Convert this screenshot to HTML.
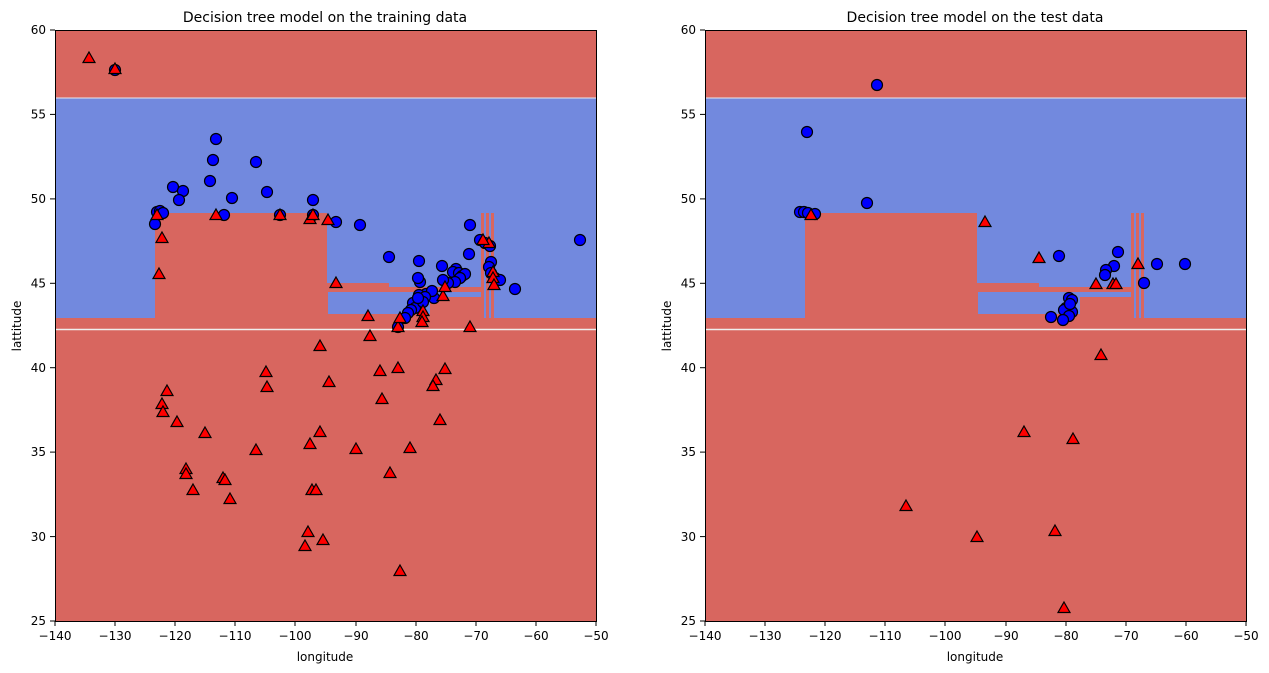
<!DOCTYPE html>
<html><head><meta charset="utf-8"><style>body{margin:0;background:#fff}svg{display:block;font-family:"DejaVu Sans","Liberation Sans",sans-serif}</style></head><body>
<svg width="1269" height="673" viewBox="0 0 1269 673" xmlns="http://www.w3.org/2000/svg">
<defs>
<g id="bg">
<rect x="55" y="30" width="541" height="591" fill="#d8665f"/>
<rect x="55" y="98" width="541" height="220" fill="#7289de"/>
<rect x="155" y="213" width="172" height="117" fill="#d8665f"/>
<rect x="327" y="283" width="62" height="47" fill="#d8665f"/>
<rect x="389" y="287" width="93" height="43" fill="#d8665f"/>
<rect x="328" y="292" width="154" height="5" fill="#7289de"/>
<rect x="328" y="292" width="102" height="22" fill="#7289de"/>
<rect x="481" y="213" width="3" height="117" fill="#d8665f"/>
<rect x="486" y="213" width="3" height="117" fill="#d8665f"/>
<rect x="491" y="213" width="3" height="117" fill="#d8665f"/>
<rect x="55" y="318" width="541" height="12" fill="#d8665f"/>
<line x1="55" y1="98" x2="596" y2="98" stroke="#e8e8f0" stroke-width="1"/>
<line x1="55" y1="329.5" x2="596" y2="329.5" stroke="#eeeeee" stroke-width="1.5"/>
</g>
<circle id="c" r="5.5" fill="#0000ff" stroke="#000" stroke-width="1.2"/>
<path id="t" d="M0,-6 L6,4.5 L-6,4.5Z" fill="#ff0000" stroke="#000" stroke-width="1.2"/>
<g id="axes">
<rect x="55.5" y="30.5" width="541" height="591" fill="none" stroke="#000" stroke-width="1"/>
<g stroke="#000">
<line x1="55" y1="621" x2="55" y2="626"/><line x1="115" y1="621" x2="115" y2="626"/><line x1="175" y1="621" x2="175" y2="626"/><line x1="235" y1="621" x2="235" y2="626"/><line x1="295" y1="621" x2="295" y2="626"/><line x1="356" y1="621" x2="356" y2="626"/><line x1="416" y1="621" x2="416" y2="626"/><line x1="476" y1="621" x2="476" y2="626"/><line x1="536" y1="621" x2="536" y2="626"/><line x1="596" y1="621" x2="596" y2="626"/>
<line x1="50" y1="30" x2="55" y2="30"/><line x1="50" y1="114.4" x2="55" y2="114.4"/><line x1="50" y1="198.9" x2="55" y2="198.9"/><line x1="50" y1="283.3" x2="55" y2="283.3"/><line x1="50" y1="367.7" x2="55" y2="367.7"/><line x1="50" y1="452.1" x2="55" y2="452.1"/><line x1="50" y1="536.6" x2="55" y2="536.6"/><line x1="50" y1="621" x2="55" y2="621"/>
</g>
<g font-size="12" text-anchor="middle" fill="#000">
<text x="55" y="640">−140</text><text x="115" y="640">−130</text><text x="175" y="640">−120</text><text x="235" y="640">−110</text><text x="295" y="640">−100</text><text x="356" y="640">−90</text><text x="416" y="640">−80</text><text x="476" y="640">−70</text><text x="536" y="640">−60</text><text x="596" y="640">−50</text>
<text x="325" y="661">longitude</text>
</g>
<g font-size="12" text-anchor="end">
<text x="46" y="34">60</text><text x="46" y="118.5">55</text><text x="46" y="203">50</text><text x="46" y="287.5">45</text><text x="46" y="372">40</text><text x="46" y="456">35</text><text x="46" y="541">30</text><text x="46" y="625">25</text>
</g>
<text transform="translate(21,326) rotate(-90)" font-size="12" text-anchor="middle">lattitude</text>
</g>
</defs>
<use href="#bg"/>
<use href="#bg" transform="translate(650,0)"/>
<g>
<use href="#c" x="115" y="70"/><use href="#c" x="216" y="139"/><use href="#c" x="213" y="160"/><use href="#c" x="256" y="162"/><use href="#c" x="210" y="181"/><use href="#c" x="173" y="187"/><use href="#c" x="183" y="191"/><use href="#c" x="232" y="198"/><use href="#c" x="267" y="192"/><use href="#c" x="179" y="200"/><use href="#c" x="313" y="200"/><use href="#c" x="157" y="212"/><use href="#c" x="160" y="211"/><use href="#c" x="163" y="213"/><use href="#c" x="155" y="224"/><use href="#c" x="224" y="215"/><use href="#c" x="280" y="215"/><use href="#c" x="313" y="215"/><use href="#c" x="336" y="222"/><use href="#c" x="360" y="225"/><use href="#c" x="389" y="257"/><use href="#c" x="419" y="261"/><use href="#c" x="470" y="225"/><use href="#c" x="469" y="254"/><use href="#c" x="480" y="240"/><use href="#c" x="485" y="243"/><use href="#c" x="490" y="246"/><use href="#c" x="491" y="262"/><use href="#c" x="489" y="267"/><use href="#c" x="495" y="278"/><use href="#c" x="491" y="273"/><use href="#c" x="500" y="280"/><use href="#c" x="515" y="289"/><use href="#c" x="580" y="240"/><use href="#c" x="442" y="266"/><use href="#c" x="456" y="269"/><use href="#c" x="453" y="272"/><use href="#c" x="459" y="273"/><use href="#c" x="462" y="276"/><use href="#c" x="465" y="274"/><use href="#c" x="460" y="278"/><use href="#c" x="455" y="282"/><use href="#c" x="448" y="283"/><use href="#c" x="443" y="280"/><use href="#c" x="420" y="282"/><use href="#c" x="418" y="278"/><use href="#c" x="426" y="294"/><use href="#c" x="419" y="295"/><use href="#c" x="413" y="303"/><use href="#c" x="415" y="308"/><use href="#c" x="411" y="310"/><use href="#c" x="408" y="313"/><use href="#c" x="405" y="318"/><use href="#c" x="398" y="327"/><use href="#c" x="434" y="298"/><use href="#c" x="432" y="291"/><use href="#c" x="425" y="297"/><use href="#c" x="423" y="302"/><use href="#c" x="418" y="298"/>
<use href="#t" x="89" y="58"/><use href="#t" x="115" y="69"/><use href="#t" x="157" y="215"/><use href="#t" x="162" y="238"/><use href="#t" x="159" y="274"/><use href="#t" x="216" y="215"/><use href="#t" x="280" y="215"/><use href="#t" x="310" y="219"/><use href="#t" x="313" y="215"/><use href="#t" x="328" y="220"/><use href="#t" x="336" y="283"/><use href="#t" x="368" y="316"/><use href="#t" x="398" y="327"/><use href="#t" x="400" y="318"/><use href="#t" x="423" y="311"/><use href="#t" x="423" y="317"/><use href="#t" x="422" y="322"/><use href="#t" x="443" y="296"/><use href="#t" x="470" y="327"/><use href="#t" x="489" y="243"/><use href="#t" x="483" y="240"/><use href="#t" x="493" y="272"/><use href="#t" x="493" y="278"/><use href="#t" x="494" y="285"/><use href="#t" x="445" y="287"/><use href="#t" x="370" y="336"/><use href="#t" x="320" y="346"/><use href="#t" x="167" y="391"/><use href="#t" x="162" y="404"/><use href="#t" x="163" y="412"/><use href="#t" x="266" y="372"/><use href="#t" x="267" y="387"/><use href="#t" x="329" y="382"/><use href="#t" x="398" y="368"/><use href="#t" x="380" y="371"/><use href="#t" x="445" y="369"/><use href="#t" x="436" y="380"/><use href="#t" x="433" y="386"/><use href="#t" x="440" y="420"/><use href="#t" x="382" y="399"/><use href="#t" x="177" y="422"/><use href="#t" x="205" y="433"/><use href="#t" x="256" y="450"/><use href="#t" x="310" y="444"/><use href="#t" x="320" y="432"/><use href="#t" x="356" y="449"/><use href="#t" x="410" y="448"/><use href="#t" x="390" y="473"/><use href="#t" x="186" y="469"/><use href="#t" x="186" y="474"/><use href="#t" x="223" y="478"/><use href="#t" x="225" y="480"/><use href="#t" x="193" y="490"/><use href="#t" x="230" y="499"/><use href="#t" x="312" y="490"/><use href="#t" x="316" y="490"/><use href="#t" x="308" y="532"/><use href="#t" x="323" y="540"/><use href="#t" x="305" y="546"/><use href="#t" x="400" y="571"/>
</g>
<g>
<use href="#c" x="877" y="85"/><use href="#c" x="807" y="132"/><use href="#c" x="867" y="203"/><use href="#c" x="800" y="212"/><use href="#c" x="804" y="212"/><use href="#c" x="808" y="213"/><use href="#c" x="815" y="214"/><use href="#c" x="1059" y="256"/><use href="#c" x="1114" y="266"/><use href="#c" x="1106" y="270"/><use href="#c" x="1105" y="275"/><use href="#c" x="1118" y="252"/><use href="#c" x="1144" y="283"/><use href="#c" x="1157" y="264"/><use href="#c" x="1185" y="264"/><use href="#c" x="1069" y="298"/><use href="#c" x="1072" y="300"/><use href="#c" x="1066" y="308"/><use href="#c" x="1072" y="312"/><use href="#c" x="1064" y="310"/><use href="#c" x="1069" y="316"/><use href="#c" x="1051" y="317"/><use href="#c" x="1063" y="320"/><use href="#c" x="1070" y="304"/>
<use href="#t" x="811" y="215"/><use href="#t" x="985" y="222"/><use href="#t" x="1039" y="258"/><use href="#t" x="1138" y="264"/><use href="#t" x="1096" y="284"/><use href="#t" x="1113" y="284"/><use href="#t" x="1116" y="284"/><use href="#t" x="1101" y="355"/><use href="#t" x="1024" y="432"/><use href="#t" x="1073" y="439"/><use href="#t" x="906" y="506"/><use href="#t" x="977" y="537"/><use href="#t" x="1055" y="531"/><use href="#t" x="1064" y="608"/>
</g>
<use href="#axes"/>
<use href="#axes" transform="translate(650,0)"/>
<text x="325" y="22" font-size="14" text-anchor="middle">Decision tree model on the training data</text>
<text x="975" y="22" font-size="14" text-anchor="middle">Decision tree model on the test data</text>
</svg>
</body></html>
